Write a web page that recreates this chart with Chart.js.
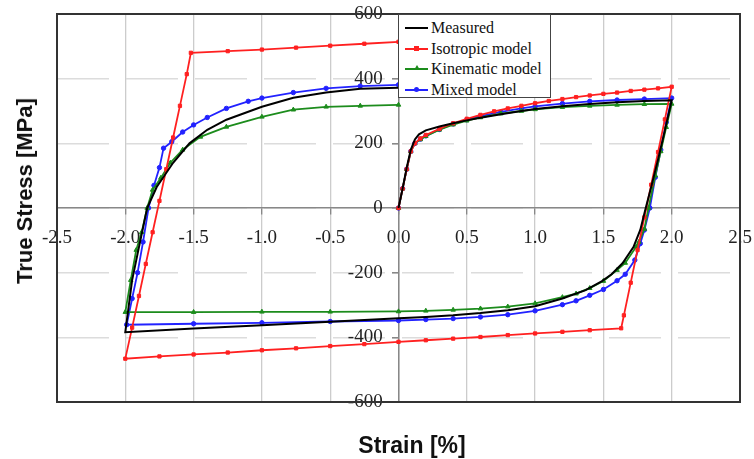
<!DOCTYPE html>
<html>
<head>
<meta charset="utf-8">
<script src="https://cdn.jsdelivr.net/npm/chart.js@4.4.0/dist/chart.umd.min.js"></script>
<style>
  body { margin: 0; background: #fff; }
  #wrap { position: relative; width: 754px; height: 459px; }
  #ytitle { position: absolute; left: 25px; top: 191px; transform: translate(-50%, -50%) rotate(-90deg);
            font: bold 22px "Liberation Sans", Arial, sans-serif; color: #111; white-space: nowrap; }
  #xtitle { position: absolute; left: 412px; top: 445px; transform: translate(-50%, -50%);
            font: bold 23px "Liberation Sans", Arial, sans-serif; color: #111; white-space: nowrap; }
  #legend { position: absolute; left: 398px; top: 14px; width: 153px; height: 84px; box-sizing: border-box;
            border: 1px solid #444; background: #fff; padding-top: 3px;
            font: 16px "Liberation Serif", "Times New Roman", serif; color: #111; }
  .item { height: 20.5px; display: flex; align-items: center; white-space: nowrap; }
  .sample { position: relative; width: 23px; margin: 0 3px 0 6px; }
  .mark { position: absolute; left: 9px; width: 5px; height: 5px; }
</style>
</head>
<body>
<div id="wrap">
  <canvas id="c"></canvas>
  <div id="legend"></div>
  <div id="ytitle">True Stress [MPa]</div>
  <div id="xtitle">Strain [%]</div>
</div>
<script>
// strain [%] / true stress [MPa]: load 0 -> 2, unload 2 -> -2, reload -2 -> 0
const measuredStrain = [0, 0.03, 0.06, 0.09, 0.12, 0.15, 0.2, 0.3, 0.4, 0.5, 0.6, 0.75, 0.9, 1.0, 1.2, 1.4, 1.6, 1.8, 2.0,
  1.95, 1.9, 1.85, 1.81, 1.77, 1.72, 1.64, 1.56, 1.49, 1.37, 1.2, 1.0, 0.8, 0.6, 0.4, 0.2, 0, -0.5, -1.0, -1.5, -2.0,
  -1.95, -1.9, -1.84, -1.77, -1.65, -1.53, -1.4, -1.26, -1.0, -0.77, -0.53, -0.28, 0]
const measuredStress = [0, 60, 125, 180, 212, 228, 240, 252, 262, 271, 279, 290, 300, 306, 315, 322, 327, 331, 333,
  240, 150, 65, 0, -68, -121, -171, -205, -226, -254, -280, -304, -316, -325, -332, -337, -341, -352, -363, -373, -384,
  -223, -121, 0, 65, 140, 200, 242, 273, 313, 341, 357, 369, 372]

const isoStrain = [0, 0.03, 0.06, 0.09, 0.12, 0.16, 0.2, 0.3, 0.4, 0.5, 0.6, 0.7, 0.8, 0.9, 1.0, 1.1, 1.2, 1.3, 1.4, 1.5, 1.6, 1.7, 1.8, 1.9, 2.0,
  1.95, 1.9, 1.85, 1.8, 1.75, 1.7, 1.65, 1.63, 1.4, 1.2, 1.0, 0.8, 0.6, 0.4, 0.2, 0, -0.25, -0.5, -0.75, -1.0, -1.25, -1.5, -1.75, -2.0,
  -1.95, -1.9, -1.85, -1.8, -1.75, -1.7, -1.65, -1.6, -1.55, -1.52, -1.25, -1.0, -0.75, -0.5, -0.25, 0]
const isoStress = [0, 60, 120, 175, 200, 215, 226, 245, 262, 276, 288, 299, 308, 316, 324, 331, 337, 343, 348, 353, 357, 362, 366, 370, 375,
  274, 173, 72, -29, -130, -231, -332, -372, -378, -383, -388, -393, -399, -404, -409, -414, -421, -427, -434, -440, -447, -453, -459, -466,
  -370, -272, -173, -75, 22, 120, 218, 316, 414, 480, 485, 490, 496, 502, 508, 514]

const kinStrain = [0, 0.03, 0.06, 0.09, 0.12, 0.16, 0.2, 0.3, 0.4, 0.5, 0.6, 0.75, 0.9, 1.0, 1.2, 1.4, 1.6, 1.8, 2.0,
  1.96, 1.92, 1.88, 1.83, 1.8, 1.76, 1.74, 1.66, 1.6, 1.5, 1.4, 1.3, 1.2, 1.0, 0.8, 0.6, 0.4, 0.2, 0, -0.5, -1.0, -1.5, -2.0,
  -1.96, -1.92, -1.88, -1.84, -1.8, -1.74, -1.67, -1.58, -1.45, -1.26, -1.0, -0.77, -0.53, -0.28, 0]
const kinStress = [0, 60, 120, 175, 200, 212, 222, 242, 258, 270, 280, 292, 300, 305, 312, 316, 319, 321, 322,
  250, 175, 100, 0, -65, -105, -120, -170, -192, -226, -248, -265, -276, -295, -305, -311, -315, -318, -320, -321, -321, -322, -322,
  -223, -130, -75, 0, 56, 93, 140, 180, 220, 251, 282, 304, 313, 316, 319]

const mixStrain = [0, 0.03, 0.06, 0.09, 0.12, 0.16, 0.2, 0.3, 0.4, 0.5, 0.6, 0.75, 0.9, 1.0, 1.2, 1.4, 1.6, 1.8, 2.0,
  1.96, 1.92, 1.88, 1.84, 1.8, 1.77, 1.73, 1.66, 1.6, 1.5, 1.4, 1.3, 1.2, 1.0, 0.8, 0.6, 0.4, 0.2, 0, -0.5, -1.0, -1.5, -1.99,
  -1.95, -1.91, -1.87, -1.83, -1.79, -1.75, -1.72, -1.66, -1.58, -1.5, -1.4, -1.26, -1.1, -1.0, -0.77, -0.53, -0.28, 0]
const mixStress = [0, 60, 120, 175, 200, 213, 223, 243, 260, 273, 284, 297, 308, 314, 323, 330, 334, 337, 340,
  265, 180, 95, 0, -68, -110, -161, -205, -225, -252, -270, -287, -299, -318, -330, -337, -342, -345, -348, -351, -355, -358, -361,
  -280, -200, -105, 0, 70, 125, 185, 205, 235, 257, 280, 308, 330, 340, 357, 370, 377, 381]

const seriesNames = ['Measured', 'Isotropic model', 'Kinematic model', 'Mixed model']
const xTicks = [-2.5, -2.0, -1.5, -1.0, -0.5, 0, 0.5, 1.0, 1.5, 2.0, 2.5]
const yTicks = [-600, -400, -200, 0, 200, 400, 600]

function pts(xs, ys) {
  return xs.map((x, i) => ({ x: x, y: ys[i] }))
}

const tickFont = { family: 'Liberation Serif', size: 19 }

const frame = {
  id: 'frame',
  afterDraw(chart) {
    const a = chart.chartArea, ctx = chart.ctx
    ctx.save()
    ctx.strokeStyle = '#333'
    ctx.lineWidth = 2
    ctx.strokeRect(a.left, a.top, a.right - a.left, a.bottom - a.top)
    ctx.restore()
  }
}

const chart = new Chart(document.getElementById('c'), {
  type: 'scatter',
  data: {
    datasets: [{
      label: seriesNames[0],
      data: pts(measuredStrain, measuredStress),
      showLine: true, borderColor: '#000', backgroundColor: '#000',
      borderWidth: 2, pointRadius: 0
    }, {
      label: seriesNames[1],
      data: pts(isoStrain, isoStress),
      showLine: true, borderColor: '#ff2020', backgroundColor: '#ff2020',
      borderWidth: 1.8, pointStyle: 'rect', pointRadius: 2.3, pointBorderWidth: 1
    }, {
      label: seriesNames[2],
      data: pts(kinStrain, kinStress),
      showLine: true, borderColor: '#1c8c1c', backgroundColor: '#1c8c1c',
      borderWidth: 1.8, pointStyle: 'triangle', pointRadius: 2.6, pointBorderWidth: 1
    }, {
      label: seriesNames[3],
      data: pts(mixStrain, mixStress),
      showLine: true, borderColor: '#2222ff', backgroundColor: '#2222ff',
      borderWidth: 1.8, pointStyle: 'circle', pointRadius: 2.2, pointBorderWidth: 1
    }]
  },
  options: {
    responsive: true,
    maintainAspectRatio: false,
    animation: false,
    layout: { padding: { left: 57, top: 14, right: 14, bottom: 57 } },
    plugins: { legend: { display: false }, tooltip: { enabled: false } },
    scales: {
      x: {
        type: 'linear', min: xTicks[0], max: xTicks[xTicks.length - 1],
        position: { y: 0 },
        afterBuildTicks: s => { s.ticks = xTicks.map(v => ({ value: v })) },
        afterFit: s => { s.height = 0; s.paddingLeft = 0; s.paddingRight = 0 },
        ticks: { callback: v => Number(v).toFixed(1), font: tickFont, color: '#222', padding: 13, maxRotation: 0, autoSkip: false },
        grid: { color: '#cccccc', lineWidth: 1.3, tickLength: 6, tickColor: '#888' },
        border: { color: '#888', width: 1.5 }
      },
      y: {
        type: 'linear', min: yTicks[0], max: yTicks[yTicks.length - 1],
        position: { x: 0 },
        afterBuildTicks: s => { s.ticks = yTicks.map(v => ({ value: v })) },
        afterFit: s => { s.width = 0; s.paddingTop = 0; s.paddingBottom = 0 },
        // labels sit right against a centred axis, so keep a little gap after the number
        ticks: { callback: v => String(v) + '\u2002 \u200A', font: tickFont, color: '#222', autoSkip: false },
        grid: { color: '#dcdcdc', lineWidth: 1.6, tickLength: 6, tickColor: '#888' },
        border: { color: '#888', width: 1.5, dash: [52, 17] }
      }
    }
  },
  plugins: [frame]
})

// html legend inside the plot box
const marks = ['', 'rect', 'triangle', 'circle']
const legend = document.getElementById('legend')
chart.data.datasets.forEach((ds, i) => {
  const item = document.createElement('div')
  item.className = 'item'
  const sample = document.createElement('span')
  sample.className = 'sample'
  sample.style.height = (i === 0 ? 2 : 1.6) + 'px'
  sample.style.background = ds.borderColor
  if (marks[i]) {
    const m = document.createElement('span')
    m.className = 'mark'
    m.style.top = '-2px'
    m.style.background = ds.borderColor
    if (marks[i] === 'circle') m.style.borderRadius = '50%'
    if (marks[i] === 'triangle') {
      m.style.background = 'none'
      m.style.width = '0'; m.style.height = '0'
      m.style.borderLeft = '3px solid transparent'
      m.style.borderRight = '3px solid transparent'
      m.style.borderBottom = '5px solid ' + ds.borderColor
      m.style.top = '-3px'
    }
    sample.appendChild(m)
  }
  item.appendChild(sample)
  item.appendChild(document.createTextNode(ds.label))
  legend.appendChild(item)
})
</script>
</body>
</html>
